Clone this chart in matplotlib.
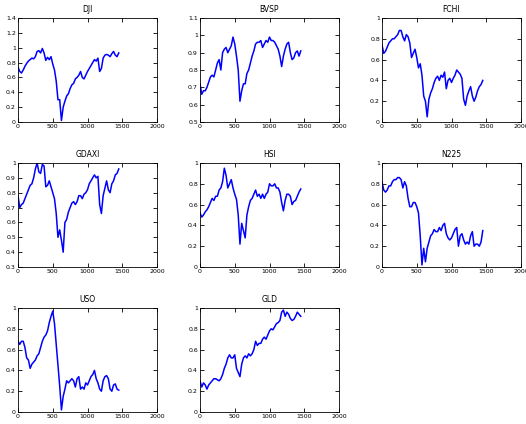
import matplotlib
matplotlib.use("Agg")
import matplotlib.pyplot as plt
from matplotlib.ticker import FuncFormatter, MultipleLocator

x = list(range(0, 1451, 25))

dji = [0.74, 0.68, 0.66, 0.70, 0.75, 0.79, 0.82, 0.84, 0.86, 0.85, 0.88, 0.95, 0.96, 0.93, 0.99, 0.93,
       0.83, 0.87, 0.84, 0.88, 0.78, 0.70, 0.55, 0.30, 0.30, 0.02, 0.20, 0.28, 0.35, 0.38, 0.45, 0.50,
       0.52, 0.58, 0.60, 0.63, 0.68, 0.60, 0.58, 0.63, 0.68, 0.72, 0.76, 0.80, 0.84, 0.82, 0.86, 0.68,
       0.72, 0.86, 0.90, 0.91, 0.90, 0.88, 0.92, 0.95, 0.90, 0.88, 0.93]
bvsp = [0.72, 0.66, 0.68, 0.68, 0.70, 0.73, 0.76, 0.77, 0.76, 0.80, 0.84, 0.86, 0.80, 0.90, 0.92, 0.93,
        0.90, 0.92, 0.94, 0.99, 0.95, 0.88, 0.80, 0.62, 0.68, 0.72, 0.72, 0.78, 0.80, 0.84, 0.88, 0.91,
        0.95, 0.96, 0.96, 0.97, 0.93, 0.95, 0.97, 0.96, 0.99, 0.97, 0.97, 0.96, 0.94, 0.92, 0.88, 0.82,
        0.88, 0.92, 0.95, 0.96, 0.90, 0.86, 0.87, 0.90, 0.91, 0.88, 0.91]
fchi = [0.74, 0.66, 0.68, 0.72, 0.76, 0.78, 0.80, 0.80, 0.82, 0.84, 0.88, 0.88, 0.82, 0.78, 0.84, 0.82,
        0.76, 0.62, 0.66, 0.70, 0.62, 0.52, 0.56, 0.45, 0.25, 0.20, 0.05, 0.22, 0.28, 0.32, 0.38, 0.42,
        0.44, 0.40, 0.45, 0.43, 0.48, 0.32, 0.40, 0.42, 0.38, 0.42, 0.45, 0.50, 0.48, 0.46, 0.42, 0.22,
        0.16, 0.25, 0.30, 0.34, 0.25, 0.20, 0.24, 0.30, 0.34, 0.36, 0.40]
gdaxi = [0.78, 0.70, 0.72, 0.73, 0.76, 0.79, 0.82, 0.85, 0.86, 0.90, 0.96, 1.00, 0.94, 0.93, 0.99, 0.98,
         0.84, 0.85, 0.88, 0.84, 0.80, 0.76, 0.66, 0.50, 0.55, 0.48, 0.40, 0.60, 0.62, 0.67, 0.70, 0.73,
         0.74, 0.72, 0.74, 0.78, 0.78, 0.76, 0.79, 0.80, 0.82, 0.86, 0.88, 0.90, 0.92, 0.90, 0.91, 0.72,
         0.66, 0.78, 0.83, 0.88, 0.82, 0.80, 0.86, 0.88, 0.92, 0.93, 0.96]
hsi = [0.52, 0.48, 0.50, 0.53, 0.55, 0.58, 0.62, 0.66, 0.64, 0.68, 0.68, 0.74, 0.76, 0.82, 0.95, 0.88,
       0.76, 0.80, 0.84, 0.76, 0.70, 0.65, 0.50, 0.22, 0.42, 0.35, 0.28, 0.50, 0.58, 0.64, 0.66, 0.70,
       0.74, 0.68, 0.70, 0.66, 0.70, 0.66, 0.70, 0.72, 0.80, 0.78, 0.78, 0.80, 0.76, 0.76, 0.72, 0.62,
       0.54, 0.64, 0.70, 0.70, 0.68, 0.60, 0.63, 0.64, 0.68, 0.72, 0.75]
n225 = [0.82, 0.74, 0.72, 0.74, 0.78, 0.78, 0.82, 0.84, 0.84, 0.86, 0.86, 0.84, 0.76, 0.82, 0.78, 0.66,
        0.58, 0.58, 0.62, 0.62, 0.58, 0.52, 0.30, 0.02, 0.18, 0.05, 0.18, 0.24, 0.30, 0.32, 0.36, 0.34,
        0.34, 0.38, 0.35, 0.40, 0.42, 0.32, 0.28, 0.26, 0.28, 0.32, 0.36, 0.38, 0.20, 0.30, 0.32, 0.26,
        0.22, 0.24, 0.22, 0.30, 0.34, 0.20, 0.22, 0.22, 0.20, 0.24, 0.35]
uso = [0.68, 0.65, 0.68, 0.68, 0.62, 0.52, 0.50, 0.42, 0.46, 0.48, 0.50, 0.54, 0.56, 0.62, 0.68, 0.72,
       0.74, 0.78, 0.86, 0.92, 0.97, 0.85, 0.65, 0.45, 0.25, 0.02, 0.15, 0.22, 0.30, 0.28, 0.30, 0.32,
       0.30, 0.24, 0.32, 0.34, 0.22, 0.24, 0.22, 0.28, 0.26, 0.30, 0.34, 0.36, 0.40, 0.32, 0.28, 0.22,
       0.20, 0.30, 0.34, 0.35, 0.32, 0.22, 0.20, 0.26, 0.27, 0.22, 0.21]
gld = [0.30, 0.24, 0.28, 0.26, 0.22, 0.26, 0.28, 0.30, 0.32, 0.32, 0.31, 0.30, 0.32, 0.36, 0.42, 0.46,
       0.52, 0.55, 0.52, 0.52, 0.55, 0.42, 0.38, 0.34, 0.46, 0.52, 0.54, 0.52, 0.56, 0.54, 0.56, 0.60,
       0.68, 0.64, 0.66, 0.66, 0.70, 0.72, 0.70, 0.74, 0.78, 0.80, 0.79, 0.82, 0.85, 0.86, 0.88, 0.96,
       0.98, 0.92, 0.96, 0.94, 0.90, 0.88, 0.89, 0.92, 0.96, 0.94, 0.92]

names = ["DJI", "BVSP", "FCHI", "GDAXI", "HSI", "N225", "USO", "GLD"]
series = [dji, bvsp, fchi, gdaxi, hsi, n225, uso, gld]
ylims = [(0, 1.4), (0.5, 1.1), (0, 1), (0.3, 1.0), (0, 1), (0, 1), (0, 1), (0, 1)]
ysteps = [0.2, 0.1, 0.2, 0.1, 0.2, 0.2, 0.2, 0.2]

W, H = 526, 424
fig = plt.figure(figsize=(W / 100, H / 100), dpi=100)
fig.patch.set_facecolor("white")
lefts = [18, 200, 382]
tops = [18, 163, 308]
aw, ah = 139, 104
fmt = FuncFormatter(lambda v, p: "%g" % round(v, 6))
for i, (nm, s) in enumerate(zip(names, series)):
    r, c = divmod(i, 3)
    ax = fig.add_axes([lefts[c] / W, 1 - (tops[r] + ah) / H, aw / W, ah / H])
    ax.plot(x, s, color="#0000ff", linewidth=1.1)
    ax.set_xlim(0, 2000)
    ax.set_ylim(*ylims[i])
    ax.xaxis.set_major_locator(MultipleLocator(500))
    ax.yaxis.set_major_locator(MultipleLocator(ysteps[i]))
    ax.xaxis.set_major_formatter(fmt)
    ax.yaxis.set_major_formatter(fmt)
    ax.tick_params(direction="in", top=True, right=True, labelsize=4.5, length=3, width=0.6, pad=1.5)
    for sp in ax.spines.values():
        sp.set_linewidth(0.6)
    ax.set_title(nm, fontsize=5.5, pad=4)

fig.savefig("out.png", dpi=100, facecolor="white")
